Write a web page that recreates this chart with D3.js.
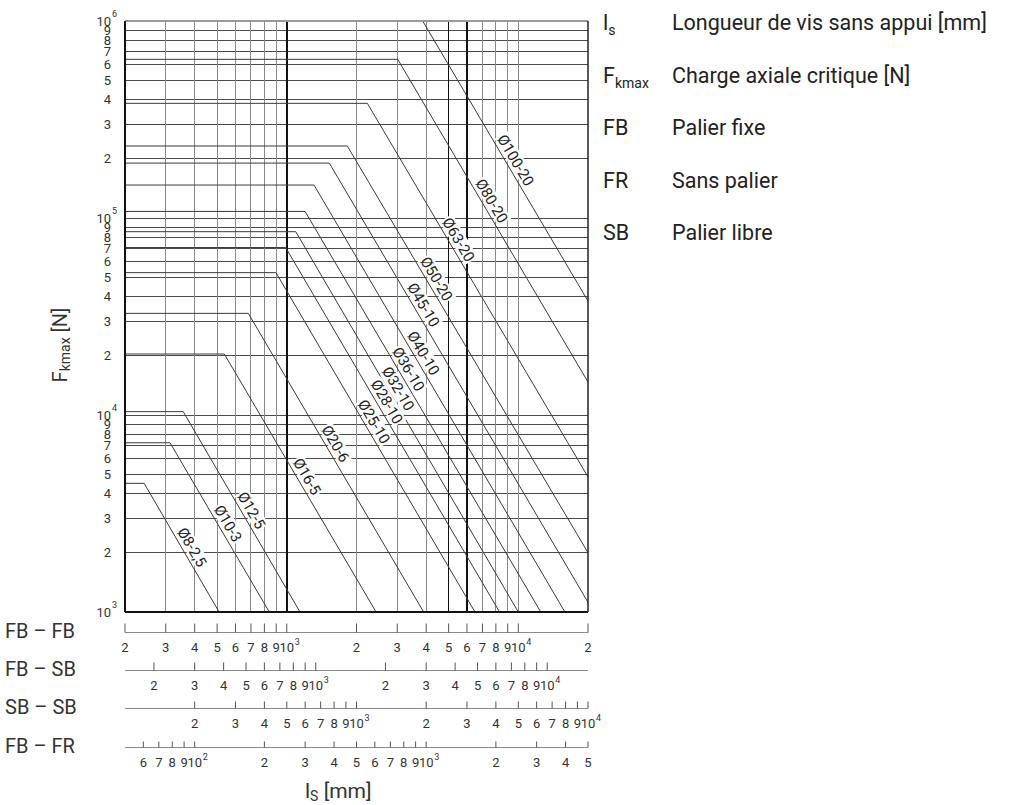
<!DOCTYPE html>
<html>
<head>
<meta charset="utf-8">
<script src="https://cdn.jsdelivr.net/npm/d3@7"></script>
<style>
  body { margin: 0; background: #fff; }
  svg { display: block; font-family: Roboto, "DejaVu Sans", sans-serif; }
  .tick-label { font-size: 13px; fill: #333; }
  .sup { font-size: 9px; fill: #333; }
  .screw { font-size: 15px; fill: #222; }
  .mount { font-size: 20px; fill: #333; }
  .legend { font-size: 21.5px; fill: #222; }
</style>
</head>
<body>
<svg id="chart" width="1012" height="805"></svg>
<script>
  // screw sizes, one curve each
  const screws = ["Ø8-2,5", "Ø10-3", "Ø12-5", "Ø16-5", "Ø20-6", "Ø25-10", "Ø28-10", "Ø32-10",
                  "Ø36-10", "Ø40-10", "Ø45-10", "Ø50-20", "Ø63-20", "Ø80-20", "Ø100-20"];
  // plateau load [N] and FB-FB length [mm] where the curve starts to fall
  const fMax = [4500, 7230, 10400, 20400, 32800, 52800, 70800, 85200,
                108000, 147000, 190000, 232000, 382000, 639000, 1000000];
  const lBreak = [242, 313, 357, 537, 682, 898, 989, 1093, 1199, 1311, 1526, 1825, 2228, 3014, 3864];
  // where the falling part leaves the chart
  const lEnd = [510, 840, 1140, 2430, 3900, 6500, 8300, 10000, 12500, 15900, 20000, 20000, 20000, 20000, 20000];
  const fEnd = [1000, 1000, 1000, 1000, 1000, 1000, 1000, 1000, 1000, 1000, 1120, 2000, 4850, 14700, 37900];
  // FB-FB length at which each curve is labelled
  const labelAt = [360, 515, 650, 1130, 1500, 2200, 2500, 2800, 3100, 3600, 3600, 4100, 5100, 7100, 9000];

  const fTicks = [1e3, 2e3, 3e3, 4e3, 5e3, 6e3, 7e3, 8e3, 9e3,
                  1e4, 2e4, 3e4, 4e4, 5e4, 6e4, 7e4, 8e4, 9e4,
                  1e5, 2e5, 3e5, 4e5, 5e5, 6e5, 7e5, 8e5, 9e5, 1e6];

  const mountings = ["FB – FB", "FB – SB", "SB – SB", "FB – FR"];
  const mountDomains = [[200, 20000], [150, 15000], [100, 10000], [50, 5000]];
  const mountTicks = [
    [200, 300, 400, 500, 600, 700, 800, 900, 1000, 2000, 3000, 4000, 5000, 6000, 7000, 8000, 9000, 10000, 20000],
    [200, 300, 400, 500, 600, 700, 800, 900, 1000, 2000, 3000, 4000, 5000, 6000, 7000, 8000, 9000, 10000],
    [200, 300, 400, 500, 600, 700, 800, 900, 1000, 2000, 3000, 4000, 5000, 6000, 7000, 8000, 9000, 10000],
    [60, 70, 80, 90, 100, 200, 300, 400, 500, 600, 700, 800, 900, 1000, 2000, 3000, 4000, 5000]
  ];
  const darkLengths = [1000, 5000, 6000];

  const legendSymbols = [["l", "s"], ["F", "kmax"], ["FB", ""], ["FR", ""], ["SB", ""]];
  const legendTexts = ["Longueur de vis sans appui [mm]", "Charge axiale critique [N]",
                       "Palier fixe", "Sans palier", "Palier libre"];

  const svg = d3.select("#chart");
  const plotLeft = 125, plotRight = 588, plotTop = 21, plotBottom = 612;
  const x = d3.scaleLog().domain(mountDomains[0]).range([plotLeft, plotRight]);
  const y = d3.scaleLog().domain([1e3, 1e6]).range([plotBottom, plotTop]);

  function mantissa(v) {
    const e = Math.floor(Math.log10(v) + 1e-9);
    return { m: Math.round(v / Math.pow(10, e)), e: e };
  }

  // grid
  const grid = svg.append("g").attr("shape-rendering", "crispEdges");
  grid.selectAll(".h")
    .data(fTicks.filter((d) => d > 1e3 && d < 1e6))
    .join("line")
    .attr("x1", plotLeft).attr("x2", plotRight)
    .attr("y1", (d) => y(d)).attr("y2", (d) => y(d))
    .attr("stroke", "#4a4a4a").attr("stroke-width", 1);
  grid.selectAll(".v")
    .data(mountTicks[0].filter((d) => d > 200 && d < 20000))
    .join("line")
    .attr("x1", (d) => x(d)).attr("x2", (d) => x(d))
    .attr("y1", plotTop).attr("y2", plotBottom)
    .attr("stroke", (d) => (darkLengths.includes(d) ? "#111" : "#8a8a8a"))
    .attr("stroke-width", (d) => (darkLengths.includes(d) ? 1.6 : 1));

  // curves
  const line = d3.line().x((d) => x(d[0])).y((d) => y(d[1]));
  const curves = screws.map((s, i) => [
    [mountDomains[0][0], fMax[i]],
    [lBreak[i], fMax[i]],
    [lEnd[i], fEnd[i]]
  ]);
  svg.append("g")
    .selectAll("path")
    .data(curves)
    .join("path")
    .attr("d", line)
    .attr("fill", "none")
    .attr("stroke", "#3a3a3a")
    .attr("stroke-width", 1);

  // frame
  svg.append("line").attr("x1", plotLeft).attr("x2", plotRight).attr("y1", plotTop).attr("y2", plotTop)
    .attr("stroke", "#999").attr("stroke-width", 2);
  svg.append("line").attr("x1", plotLeft).attr("x2", plotRight).attr("y1", plotBottom).attr("y2", plotBottom)
    .attr("stroke", "#111").attr("stroke-width", 2);
  svg.append("line").attr("x1", plotLeft).attr("x2", plotLeft).attr("y1", plotTop).attr("y2", plotBottom)
    .attr("stroke", "#111").attr("stroke-width", 2);
  svg.append("line").attr("x1", plotRight).attr("x2", plotRight).attr("y1", plotTop).attr("y2", plotBottom)
    .attr("stroke", "#222").attr("stroke-width", 1.5);

  // curve labels
  const labels = svg.append("g");
  screws.forEach((s, i) => {
    const x0 = x(lBreak[i]), y0 = y(fMax[i]);
    const x1 = x(lEnd[i]), y1 = y(fEnd[i]);
    const angle = Math.atan2(y1 - y0, x1 - x0) * 180 / Math.PI;
    const lx = x(labelAt[i]);
    const ly = y0 + (lx - x0) / (x1 - x0) * (y1 - y0);
    const g = labels.append("g").attr("transform", `translate(${lx},${ly}) rotate(${angle})`);
    const rect = g.append("rect").attr("fill", "#fff");
    const t = g.append("text").attr("class", "screw").attr("x", 0).attr("y", -4)
      .attr("text-anchor", "middle").text(s);
    const b = t.node().getBBox();
    rect.attr("x", b.x - 1).attr("y", b.y + 1).attr("width", b.width + 2).attr("height", b.height - 3);
  });

  // y tick labels
  const yAxis = svg.append("g");
  fTicks.forEach((v) => {
    const { m, e } = mantissa(v);
    if (m === 1) {
      yAxis.append("text").attr("class", "tick-label").attr("x", 111).attr("y", y(v))
        .attr("dy", "0.35em").attr("text-anchor", "end").text("10");
      yAxis.append("text").attr("class", "sup").attr("x", 112).attr("y", y(v) - 4).text(e);
    } else {
      yAxis.append("text").attr("class", "tick-label").attr("x", 111).attr("y", y(v))
        .attr("dy", "0.35em").attr("text-anchor", "end").text(m);
    }
  });

  // y title
  const yTitle = svg.append("text").attr("transform", "translate(67,345) rotate(-90)")
    .attr("text-anchor", "middle").attr("fill", "#333").attr("font-size", 20);
  yTitle.append("tspan").text("F");
  yTitle.append("tspan").attr("font-size", 14).attr("dy", 3).text("kmax");
  yTitle.append("tspan").attr("dy", -3).text(" [N]");

  // length scales for the four mountings
  const lineY = [632.5, 670.5, 708.5, 747.5];
  const tickLen = [9, 8, 7, 6];
  mountings.forEach((name, i) => {
    const xs = d3.scaleLog().domain(mountDomains[i]).range([plotLeft, plotRight]);
    const g = svg.append("g");
    g.append("line").attr("x1", plotLeft).attr("x2", plotRight).attr("y1", lineY[i]).attr("y2", lineY[i])
      .attr("stroke", "#8a8a8a").attr("stroke-width", 1);
    g.selectAll("line.t")
      .data(mountTicks[i])
      .join("line")
      .attr("x1", (d) => xs(d)).attr("x2", (d) => xs(d))
      .attr("y1", lineY[i] - tickLen[i]).attr("y2", lineY[i])
      .attr("stroke", "#555").attr("stroke-width", 1);
    mountTicks[i].forEach((v) => {
      const { m, e } = mantissa(v);
      const ty = lineY[i] + 19;
      if (m === 1) {
        g.append("text").attr("class", "tick-label").attr("x", xs(v)).attr("y", ty)
          .attr("text-anchor", "middle").text("10");
        g.append("text").attr("class", "sup").attr("x", xs(v) + 8).attr("y", ty - 7).text(e);
      } else {
        g.append("text").attr("class", "tick-label").attr("x", xs(v)).attr("y", ty)
          .attr("text-anchor", "middle").text(m);
      }
    });
    svg.append("text").attr("class", "mount").attr("x", 5).attr("y", lineY[i] + 5).text(name);
  });

  // x title
  const xTitle = svg.append("text").attr("x", 305).attr("y", 798).attr("fill", "#333").attr("font-size", 21);
  xTitle.append("tspan").text("l");
  xTitle.append("tspan").attr("font-size", 14).attr("dy", 3).text("S");
  xTitle.append("tspan").attr("dy", -3).text(" [mm]");

  // legend
  const legend = svg.append("g");
  legendTexts.forEach((txt, i) => {
    const by = 30 + i * 52.5;
    const sym = legend.append("text").attr("class", "legend").attr("x", 603).attr("y", by);
    sym.append("tspan").text(legendSymbols[i][0]);
    if (legendSymbols[i][1]) {
      sym.append("tspan").attr("font-size", 14).attr("dy", 5).text(legendSymbols[i][1]);
    }
    legend.append("text").attr("class", "legend").attr("x", 672).attr("y", by).text(txt);
  });
</script>
</body>
</html>
